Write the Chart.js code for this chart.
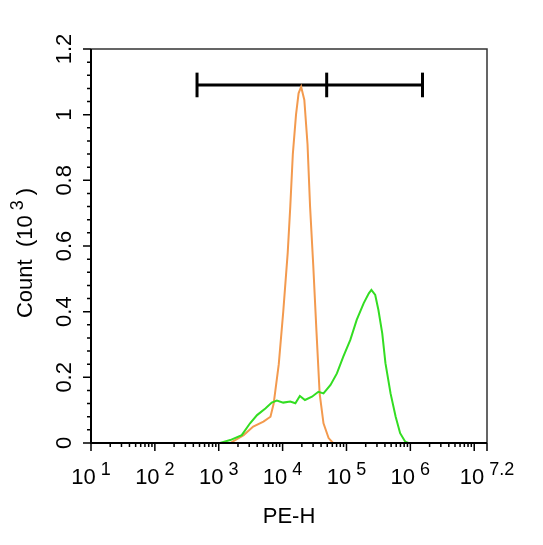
<!DOCTYPE html>
<html>
	<head>
		<meta charset="utf-8">
		<title>PE-H histogram</title>
		<style>
			body { margin: 0; background: #fff; }
			canvas { display: block; }
		</style>
	</head>

	<body>
		<canvas id="canvasChart" width="543" height="545"></canvas>

		<script src="https://cdn.jsdelivr.net/npm/chart.js"></script>
		<script>

			// x values are read as log10(PE-H), y as Count (10^3)
			var orangeExp = [3.18, 3.39, 3.54, 3.70, 3.81, 3.86, 3.94, 4.01, 4.08, 4.12, 4.16, 4.21, 4.25, 4.29, 4.34, 4.39, 4.43, 4.48, 4.53, 4.58, 4.64, 4.72, 4.79];
			var orangeCount = [0, 0.024, 0.05, 0.065, 0.08, 0.12, 0.24, 0.40, 0.58, 0.72, 0.88, 1.00, 1.065, 1.085, 1.045, 0.91, 0.72, 0.54, 0.34, 0.15, 0.06, 0.015, 0];

			var greenExp = [3.02, 3.18, 3.36, 3.49, 3.60, 3.73, 3.83, 3.91, 4.01, 4.12, 4.20, 4.27, 4.35, 4.46, 4.56, 4.64, 4.75, 4.85, 4.95, 5.06, 5.16, 5.27, 5.35, 5.39, 5.45, 5.50, 5.56, 5.61, 5.69, 5.77, 5.84, 5.92, 5.97];
			var greenCount = [0, 0.009, 0.024, 0.06, 0.085, 0.105, 0.123, 0.129, 0.123, 0.126, 0.121, 0.143, 0.131, 0.141, 0.156, 0.151, 0.177, 0.212, 0.263, 0.314, 0.375, 0.426, 0.456, 0.466, 0.451, 0.405, 0.334, 0.243, 0.151, 0.08, 0.03, 0.004, 0];

			// gate marker: left, middle and right ends (log10) and its height
			var gateExp = [2.66, 4.69, 6.19];
			var gateLevel = 1.09;
			var gateCap = [1.053, 1.128];

			var xTickExp = [1, 2, 3, 4, 5, 6, 7.2];
			var yTickLabels = ["0", "0.2", "0.4", "0.6", "0.8", "1", "1.2"];

			var FONT = '"Liberation Sans", Arial, sans-serif';

			function toPoints(exps, counts) {
				return exps.map(function(e, i) {
					return {x: Math.pow(10, e), y: counts[i]};
				});
			}

			var gateSets = [{
				data: toPoints([gateExp[0], gateExp[2]], [gateLevel, gateLevel]),
				borderColor: '#000', borderWidth: 3
			}];
			gateExp.forEach(function(e) {
				gateSets.push({
					data: toPoints([e, e], gateCap),
					borderColor: '#000', borderWidth: 3
				});
			});

			// axes, ticks and labels drawn by hand so the superscripts look right
			var axesPlugin = {
				id: 'flowAxes',
				afterDraw: function(chart) {
					var ctx = chart.ctx;
					var xs = chart.scales.x, ys = chart.scales.y;
					var a = chart.chartArea;
					ctx.save();

					// box
					ctx.strokeStyle = '#333';
					ctx.lineWidth = 1.5;
					ctx.beginPath();
					ctx.moveTo(a.left, a.top);
					ctx.lineTo(a.right, a.top);
					ctx.lineTo(a.right, a.bottom);
					ctx.stroke();
					ctx.strokeStyle = '#000';
					ctx.lineWidth = 2;
					ctx.beginPath();
					ctx.moveTo(a.left, a.top);
					ctx.lineTo(a.left, a.bottom);
					ctx.lineTo(a.right, a.bottom);
					ctx.stroke();

					// x ticks
					ctx.lineWidth = 1.5;
					ctx.beginPath();
					for (var d = 1; d <= 7; d++) {
						for (var k = 1; k <= 9; k++) {
							var v = k * Math.pow(10, d);
							if (v > xs.max) break;
							var px = xs.getPixelForValue(v);
							ctx.moveTo(px, a.bottom);
							ctx.lineTo(px, a.bottom + (k === 1 ? 8 : 4));
						}
					}
					var pr = xs.getPixelForValue(xs.max);
					ctx.moveTo(pr, a.bottom);
					ctx.lineTo(pr, a.bottom + 8);
					// y ticks
					for (var j = 0; j <= 30; j++) {
						var py = ys.getPixelForValue(j * 0.04);
						ctx.moveTo(a.left, py);
						ctx.lineTo(a.left - (j % 5 === 0 ? 8 : 4), py);
					}
					ctx.stroke();

					ctx.fillStyle = '#000';
					ctx.textBaseline = 'alphabetic';

					// x tick labels 10^n
					xTickExp.forEach(function(e) {
						var px = xs.getPixelForValue(Math.pow(10, e));
						var expTxt = String(e);
						ctx.font = '22px ' + FONT;
						var wBase = ctx.measureText('10').width;
						ctx.font = '18px ' + FONT;
						var wExp = ctx.measureText(expTxt).width;
						var gap = 5;
						var x0 = px - (wBase + gap + wExp) / 2;
						ctx.textAlign = 'left';
						ctx.font = '22px ' + FONT;
						ctx.fillText('10', x0, 484);
						ctx.font = '18px ' + FONT;
						ctx.fillText(expTxt, x0 + wBase + gap, 475);
					});

					// y tick labels, rotated
					ctx.font = '22px ' + FONT;
					ctx.textAlign = 'center';
					yTickLabels.forEach(function(lbl, i) {
						var py = ys.getPixelForValue(i * 0.2);
						ctx.save();
						ctx.translate(71, py);
						ctx.rotate(-Math.PI / 2);
						ctx.fillText(lbl, 0, 0);
						ctx.restore();
					});

					// x title
					ctx.fillText('PE-H', 289, 523);

					// y title: Count (10^3)
					ctx.save();
					ctx.translate(32, 253);
					ctx.rotate(-Math.PI / 2);
					ctx.textAlign = 'left';
					ctx.font = '22px ' + FONT;
					var p1 = 'Count  (10', p3 = ')';
					var w1 = ctx.measureText(p1).width, w3 = ctx.measureText(p3).width;
					ctx.font = '18px ' + FONT;
					var w2 = ctx.measureText('3').width;
					var start = -(w1 + 5 + w2 + 5 + w3) / 2;
					ctx.font = '22px ' + FONT;
					ctx.fillText(p1, start, 0);
					ctx.fillText(p3, start + w1 + 5 + w2 + 5, 0);
					ctx.font = '18px ' + FONT;
					ctx.fillText('3', start + w1 + 5, -9);
					ctx.restore();

					ctx.restore();
				}
			};

			var chart = new Chart(document.getElementById('canvasChart'), {
				type: 'line',
				data: {
					datasets: [{
						label: 'sample',
						data: toPoints(greenExp, greenCount),
						borderColor: '#33DD22',
						borderWidth: 2
					}, {
						label: 'control',
						data: toPoints(orangeExp, orangeCount),
						borderColor: '#F39A4E',
						borderWidth: 2
					}].concat(gateSets)
				},
				options: {
					responsive: false,
					animation: false,
					devicePixelRatio: 1,
					layout: {
						padding: {left: 91, top: 49, right: 56, bottom: 102}
					},
					elements: {
						point: {radius: 0},
						line: {tension: 0, fill: false, borderCapStyle: 'butt'}
					},
					plugins: {
						legend: {display: false},
						tooltip: {enabled: false}
					},
					scales: {
						x: {
							type: 'logarithmic',
							min: 10,
							max: Math.pow(10, 7.2),
							display: false
						},
						y: {
							type: 'linear',
							min: 0,
							max: 1.2,
							display: false
						}
					}
				},
				plugins: [axesPlugin]
			});

		</script>
	</body>
</html>
